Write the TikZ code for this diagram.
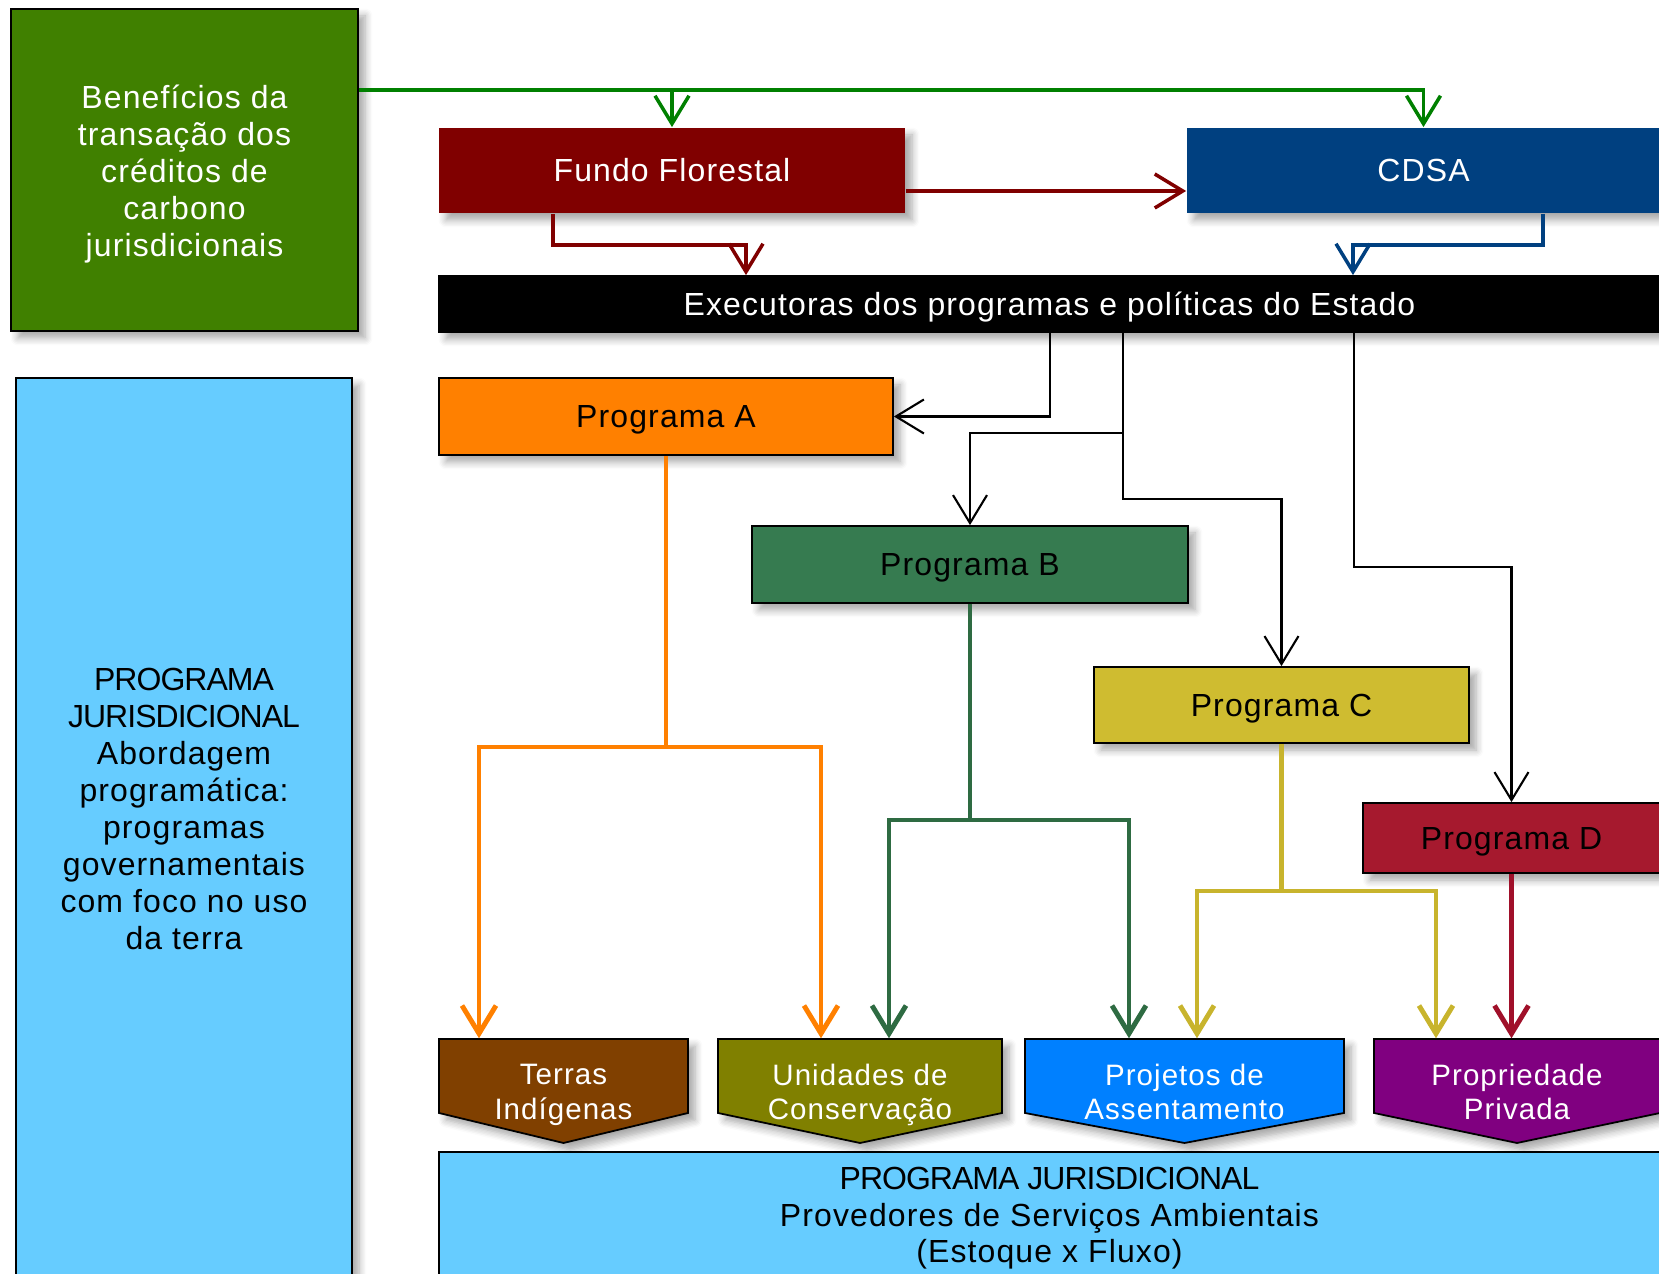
\documentclass[tikz,border=0pt]{standalone}
\usepackage{fontspec}
\setmainfont[LetterSpace=3.5]{Liberation Sans}
\newfontfamily\capsfont[LetterSpace=-3]{Liberation Sans}
\usetikzlibrary{arrows.meta,shadows.blur}

\definecolor{benGreen}{RGB}{64,128,0}
\definecolor{topGreen}{RGB}{0,128,0}
\definecolor{fundoRed}{RGB}{128,0,0}
\definecolor{cdsaBlue}{RGB}{0,64,128}
\definecolor{jurBlue}{RGB}{102,204,255}
\definecolor{progAcol}{RGB}{255,128,0}
\definecolor{progBcol}{RGB}{54,123,80}
\definecolor{progCcol}{RGB}{207,188,48}
\definecolor{progDcol}{RGB}{166,25,46}
\definecolor{lineBcol}{RGB}{46,107,66}
\definecolor{lineCcol}{RGB}{200,180,45}
\definecolor{lineDcol}{RGB}{160,16,42}
\definecolor{terrasCol}{RGB}{128,64,0}
\definecolor{unidCol}{RGB}{128,128,0}
\definecolor{projCol}{RGB}{0,128,255}
\definecolor{propCol}{RGB}{128,0,128}

\tikzset{
  shade box/.style={blur shadow={shadow xshift=0.7mm,shadow yshift=-0.7mm,shadow blur steps=6,shadow opacity=35}},
  box/.style={draw=black, line width=0.5pt, inner sep=0pt, align=center,
    font=\fontsize{9.1}{10.5}\selectfont, shade box},
  line box/.style={box, text height=8.2pt, text depth=1.9pt},
  plain box/.style={line box, draw=none},
  boxtext/.style={align=center, inner sep=0pt, font=\fontsize{9.1}{10.5}\selectfont},
  pent/.style={draw=black, line width=0.5pt, shade box},
  ptext/.style={inner sep=0pt, align=center, text=white, font=\fontsize{8.4}{9.7}\selectfont},
  tip/.style={-{Straight Barb[length=2.8mm,width=3.4mm]}},
  topline/.style={tip, line width=1pt},
  progline/.style={tip, line width=1.4pt},
  blackline/.style={tip, line width=0.6pt, black}
}

\begin{document}
\begin{tikzpicture}

\useasboundingbox (0,0) rectangle (16.59,-12.74);
\clip (0,0) rectangle (16.59,-12.74);

% left column
\node[box, fill=benGreen, minimum width=3.47cm, minimum height=3.22cm] (ben) at (1.845,-1.70) {};
\node[boxtext, text=white] (bentxt) at (1.845,-1.742)
  {Benefícios da\\transação dos\\créditos de\\carbono\\jurisdicionais};

\node[box, fill=jurBlue, minimum width=3.36cm, minimum height=9.02cm] (jur) at (1.84,-8.29) {};
\node[boxtext] (jurtxt) at (1.84,-8.09)
  {{\capsfont PROGRAMA}\\{\capsfont JURISDICIONAL}\\Abordagem\\programática:\\programas\\governamentais\\com foco no uso\\da terra};

% funds
\node[plain box, fill=fundoRed, text=white, minimum width=4.66cm, minimum height=0.85cm] (fundo) at (6.72,-1.705) {Fundo Florestal};
\node[plain box, fill=cdsaBlue, text=white, minimum width=4.73cm, minimum height=0.85cm] (cdsa) at (14.235,-1.705) {CDSA};

\node[line box, fill=black, text=white, minimum width=12.21cm, minimum height=0.56cm] (exec) at (10.495,-3.04)
  {Executoras dos programas e políticas do Estado};

% programs
\node[line box, fill=progAcol, minimum width=4.54cm, minimum height=0.77cm] (progA) at (6.66,-4.165) {Programa A};
\node[line box, fill=progBcol, minimum width=4.36cm, minimum height=0.77cm] (progB) at (9.70,-5.645) {Programa B};
\node[line box, fill=progCcol, minimum width=3.75cm, minimum height=0.76cm] (progC) at (12.815,-7.05) {Programa C};
\node[line box, fill=progDcol, minimum width=2.97cm, minimum height=0.70cm] (progD) at (15.115,-8.38) {Programa D};

% land categories
\foreach \nm/\cx/\bw/\col/\txt in {
  terras/5.635/2.49/terrasCol/{Terras\\Indígenas\strut},
  unid/8.60/2.84/unidCol/{Unidades de\\Conservação\strut},
  proj/11.845/3.19/projCol/{Projetos de\\Assentamento\strut},
  prop/15.17/2.86/propCol/{Propriedade\\Privada\strut}}
{
  \draw[pent, fill=\col] (\cx-\bw/2,-10.39) -- (\cx+\bw/2,-10.39) -- (\cx+\bw/2,-11.13)
    -- (\cx,-11.43) -- (\cx-\bw/2,-11.13) -- cycle;
  \node[minimum width=\bw cm, minimum height=0.74cm, inner sep=0pt] (\nm) at (\cx,-10.76) {};
  \node[ptext] (\nm txt) at (\cx,-10.97) {\txt};
}

\node[box, fill=jurBlue, minimum width=12.21cm, minimum height=1.25cm] (prov) at (10.495,-12.145) {};
\node[boxtext] (provtxt) at (10.495,-12.182)
  {{\capsfont PROGRAMA JURISDICIONAL}\\Provedores de Serviços Ambientais\\(Estoque x Fluxo)};

% benefits to the funds
\coordinate (gsrc) at (ben.east |- 0,-0.90);
\draw[topline, topGreen] (gsrc) -| (cdsa.north);
\draw[topline, topGreen] (fundo.north |- gsrc) -- (fundo.north);

\draw[topline, fundoRed] (fundo.east |- 0,-1.91) -- (cdsa.west |- 0,-1.91);

\coordinate (fk) at (7.46,-2.45);
\coordinate (ck) at (13.53,-2.45);
\draw[topline, fundoRed] (fundo.south -| 5.53,0) |- (fk) -- (fk |- exec.north);
\draw[topline, cdsaBlue] (cdsa.south -| 15.43,0) |- (ck) -- (ck |- exec.north);

% executors to programs
\coordinate (eA) at (10.50,-4.165);
\coordinate (eB) at (11.23,-4.33);
\coordinate (eC) at (11.23,-4.99);
\coordinate (eD) at (13.54,-5.67);
\draw[blackline] (exec.south -| eA) -- (eA) -- (progA.east);
\draw[blackline] (exec.south -| eB) -- (eB) -| (progB.north);
\draw[blackline] (exec.south -| eC) -- (eC) -| (progC.north);
\draw[blackline] (exec.south -| eD) -- (eD) -| (progD.north);

% programs to land categories
\coordinate (aL) at (4.79,-7.47);
\coordinate (aR) at (8.21,-7.47);
\coordinate (bL) at (8.89,-8.20);
\coordinate (bR) at (11.29,-8.20);
\coordinate (cL) at (11.97,-8.91);
\coordinate (cR) at (14.36,-8.91);

\draw[progline, progAcol] (progA.south) |- (aL) -- (aL |- terras.north);
\draw[progline, progAcol] (progA.south |- aR) -- (aR) -- (aR |- unid.north);
\draw[progline, lineBcol] (progB.south) |- (bL) -- (bL |- unid.north);
\draw[progline, lineBcol] (progB.south |- bR) -- (bR) -- (bR |- proj.north);
\draw[progline, lineCcol] (progC.south) |- (cL) -- (cL |- proj.north);
\draw[progline, lineCcol] (progC.south |- cR) -- (cR) -- (cR |- prop.north);
\draw[progline, lineDcol] (progD.south) -- (progD.south |- prop.north);

\end{tikzpicture}
\end{document}
